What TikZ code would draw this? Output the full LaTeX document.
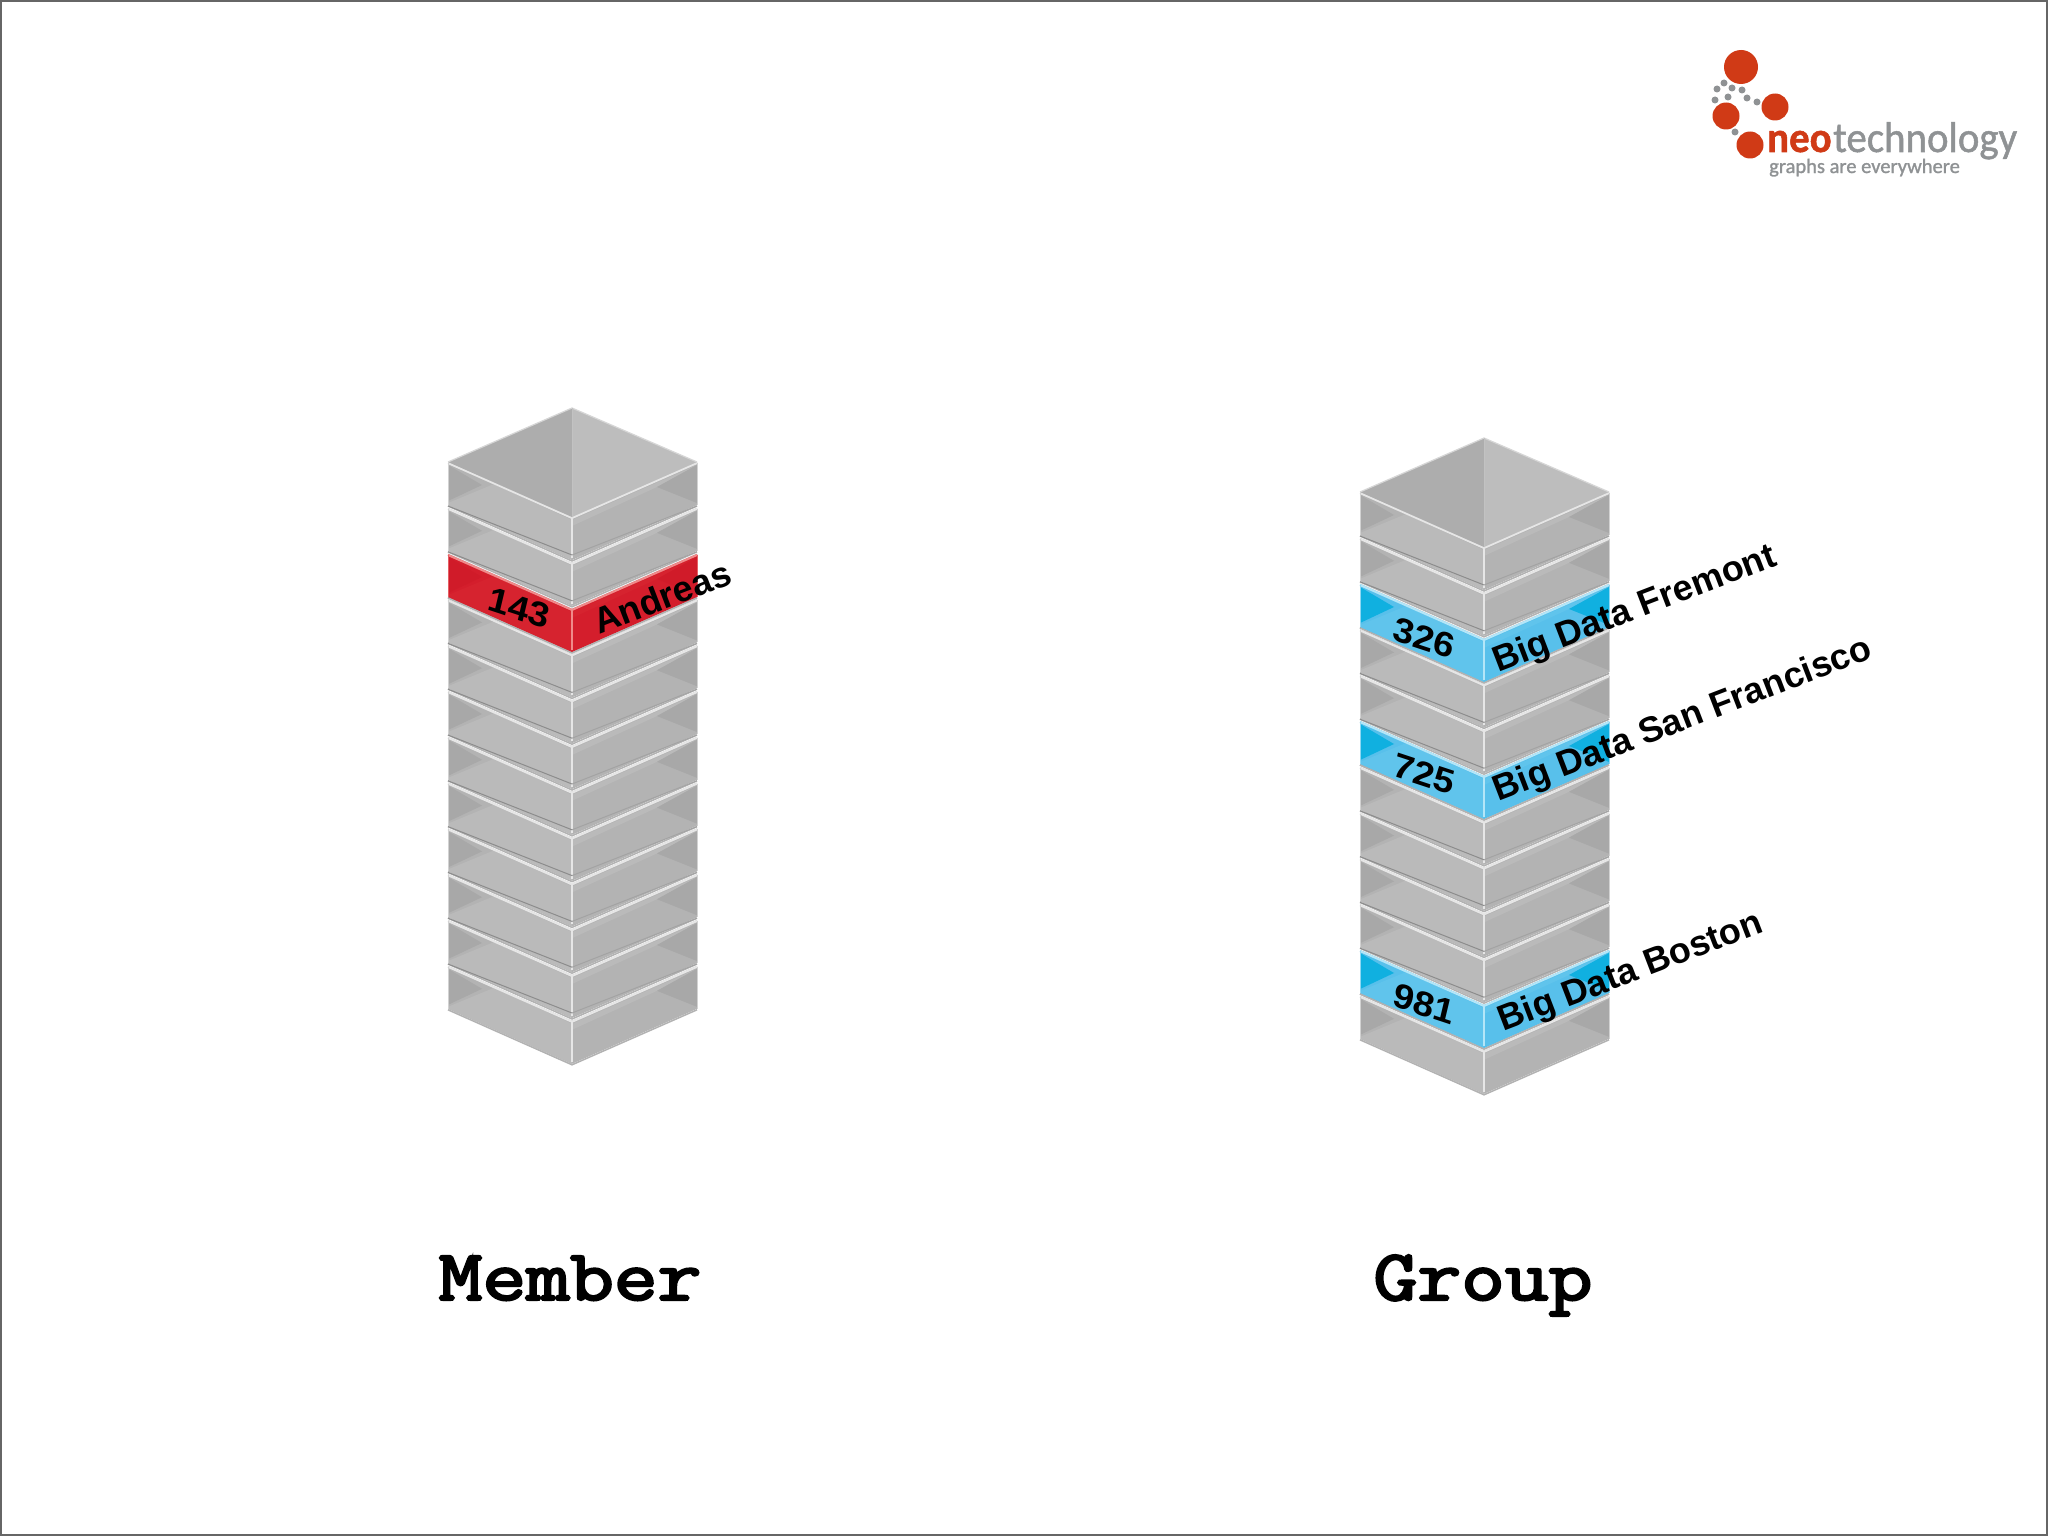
\documentclass[tikz,border=0pt]{standalone}
\usepackage{fontspec}
\setsansfont{Liberation Sans}
\newfontfamily\logofont[FakeBold=1.2]{Carlito}
\newfontfamily\storefont[FakeBold=3]{Latin Modern Mono}

\definecolor{greyface}{HTML}{B3B3B3}
\definecolor{greylight}{HTML}{BABABA}
\definecolor{greydark}{HTML}{A8A8A8}
\definecolor{greyrim}{HTML}{E6E6E6}
\definecolor{redface}{HTML}{D41E2C}
\definecolor{redlight}{HTML}{D6232F}
\definecolor{reddark}{HTML}{D01B29}
\definecolor{redrim}{HTML}{F08A8A}
\definecolor{blueface}{HTML}{58C0EB}
\definecolor{bluelight}{HTML}{60C4EC}
\definecolor{bluedark}{HTML}{10B0E0}
\definecolor{bluerim}{HTML}{B4E6F8}
\definecolor{logored}{HTML}{D03A16}
\definecolor{logogrey}{HTML}{8F9294}

\tikzset{
	rowlabel/.style={inner sep=0pt, font=\sffamily\bfseries\fontsize{36}{40}\selectfont, rotate=21},
	rowid/.style={inner sep=0pt, font=\sffamily\bfseries\fontsize{36}{40}\selectfont, transform shape, yslant=-0.33, xslant=0.22},
	storename/.style={anchor=base, inner sep=0pt, font=\storefont\fontsize{85}{90}\selectfont, yscale=0.85, transform shape},
	logodot/.style={fill=logogrey},
	logoball/.style={fill=logored},
	logotext/.style={anchor=base west, inner sep=0pt, text=logogrey},
}

% one slab of a stack: left corner x, y of top edge, colour prefix
\newcommand{\slab}[3]{%
	\begin{scope}[shift={(#1,#2)}]
		\fill[#3face] (0,0) -- (124,55) -- (249,0) -- (249,43) -- (124,98) -- (0,43) -- cycle;
		\fill[#3light] (0,41) -- (46,22) -- (124,58) -- (124,98) -- (0,43) -- cycle;
		\fill[#3light] (124,58) -- (249,3) -- (209,25) -- (124,64) -- cycle;
		\fill[#3dark] (0,3) -- (34,23) -- (0,39) -- cycle;
		\fill[#3dark] (249,3) -- (249,41) -- (209,25) -- cycle;
		\draw[#3rim, line width=2pt] (0,1) -- (124,56) -- (249,1);
		\draw[#3rim, line width=1.5pt] (124,56) -- (124,96);
		\draw[#3rim!60!#3face, line width=1pt] (0,1) -- (0,43);
		\draw[#3rim!60!#3face, line width=1pt] (249,1) -- (249,43);
		\draw[black!30, line width=1.5pt] (0,44) -- (124,99) -- (249,44);
	\end{scope}}

% crease at the foot of a grey slab: left corner x, y of top edge
\newcommand{\slabline}[2]{%
	\begin{scope}[shift={(#1,#2)}]
		\draw[black!45, line width=1pt] (0,44) -- (124,93);
		\draw[black!36, line width=1pt] (124,93) -- (249,44);
	\end{scope}}

% top cap of a stack: left corner x, y of top edge
\newcommand{\stackcap}[2]{%
	\begin{scope}[shift={(#1,#2)}]
		\fill[black!32] (0,0) -- (124,-54) -- (124,55) -- cycle;
		\fill[black!26] (124,-54) -- (249,0) -- (124,55) -- cycle;
		\draw[black!16, line width=1.2pt] (0,0) -- (124,-54) -- (249,0);
		\draw[black!24, line width=1pt] (124,-54) -- (124,55);
	\end{scope}}

\begin{document}
\begin{tikzpicture}[x=1pt, y=-1pt]

% frame %{{{2

	\useasboundingbox (0,0) rectangle (2048,1536);
	\draw[black!60, line width=2pt, fill=white] (1,1) rectangle (2047,1535);

% stacks %{{{2

	\foreach \x/\y in {448/462, 1360/492} {
		\foreach \i [evaluate=\i as \row using \y+45.8*\i] in {0,...,11} {
			\slab{\x}{\row}{grey}
		}
		\foreach \i [evaluate=\i as \row using \y+45.8*\i] in {0,...,10} {
			\slabline{\x}{\row}
		}
		\stackcap{\x}{\y}
	}

% coloured rows %{{{2

	\slab{448}{554}{red}
	\slab{1360}{584}{blue}
	\slab{1360}{721}{blue}
	\slab{1360}{950}{blue}

% row texts %{{{2

	\node[rowid] (id143) at (519,608) {143};
	\node[rowlabel] (andreas) at (662,597) {Andreas};
	\node[rowid] (id326) at (1424,638) {326};
	\node[rowlabel] (fremont) at (1635,610) {Big Data Fremont};
	\node[rowid] (id725) at (1424,774) {725};
	\node[rowlabel] (francisco) at (1683,721) {Big Data San Francisco};
	\node[rowid] (id981) at (1424,1004) {981};
	\node[rowlabel] (boston) at (1631,973) {Big Data Boston};

% stack names %{{{2

	\node[storename] (member) at (570,1300) {Member};
	\node[storename] (group) at (1483,1300) {Group};

% logo %{{{2

	\fill[logoball] (1741,67) circle (17pt);
	\fill[logoball] (1775,107) circle (13.5pt);
	\fill[logoball] (1726,116) circle (13.5pt);
	\fill[logoball] (1750,145) circle (13.5pt);
	\foreach \x/\y in {1724/83, 1717/89, 1732/88, 1742/90, 1715/100, 1728/97, 1747/98, 1757/102, 1735/132}
		\fill[logodot] (\x,\y) circle (3.5pt);

	\node[logotext, text=logored, font=\logofont\bfseries\fontsize{43}{46}\selectfont, xscale=0.95, transform shape] (neo) at (1767,152) {neo};
	\node[logotext, font=\logofont\fontsize{43}{46}\selectfont, xscale=0.95, transform shape] (tech) at (1833,152) {technology};
	\node[logotext, font=\logofont\fontsize{20.5}{24}\selectfont] (slogan) at (1769,173) {graphs are everywhere};

\end{tikzpicture}
\end{document}
